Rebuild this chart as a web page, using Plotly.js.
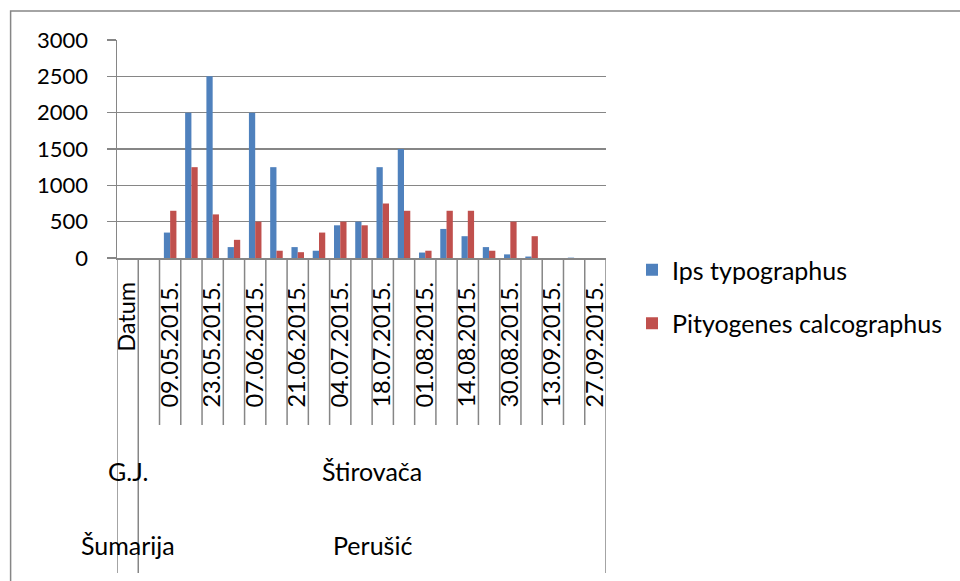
<!DOCTYPE html>
<html>
<head>
<meta charset="utf-8">
<script src="https://cdn.plot.ly/plotly-3.0.1.min.js"></script>
<style>html,body{margin:0;padding:0;background:#fff;}#chart{width:960px;height:581px;}</style>
</head>
<body>
<div id="chart"></div>
<script>
// Category level 1 (dates); every other label is shown, as in the original
const categories = ["Datum","02.05.2015.","09.05.2015.","16.05.2015.","23.05.2015.","30.05.2015.","07.06.2015.","14.06.2015.","21.06.2015.","28.06.2015.","04.07.2015.","11.07.2015.","18.07.2015.","25.07.2015.","01.08.2015.","08.08.2015.","14.08.2015.","22.08.2015.","30.08.2015.","06.09.2015.","13.09.2015.","20.09.2015.","27.09.2015."];
const shownLabels = ["Datum","09.05.2015.","23.05.2015.","07.06.2015.","21.06.2015.","04.07.2015.","18.07.2015.","01.08.2015.","14.08.2015.","30.08.2015.","13.09.2015.","27.09.2015."];
// Category level 2 and 3
const level2 = [{text:"G.J.", from:0, to:0}, {text:"Štirovača", from:1, to:22}];
const level3 = [{text:"Šumarija", from:0, to:0}, {text:"Perušić", from:1, to:22}];
// Series
const seriesNames = ["Ips typographus","Pityogenes calcographus"];
const ipsValues  = [null,0,350,2000,2500,150,2000,1250,150,100,450,500,1250,1500,75,400,300,150,50,20,0,5,0];
const pityValues = [null,0,650,1250,600,250,500,100,80,350,500,450,750,650,100,650,650,100,500,300,0,0,0];
const yTicks = [0,500,1000,1500,2000,2500,3000];

const FONT = "Lato, 'Liberation Sans', sans-serif";
const GREY = "#868686";

const traces = [
  {type:"bar", name:seriesNames[0], x:categories, y:ipsValues, marker:{color:"#4F81BD"}, legendgroup:"a"},
  {type:"bar", name:seriesNames[1], x:categories, y:pityValues, marker:{color:"#C0504D"}, legendgroup:"b"}
];

// paper y for pixel rows (plot area from 40 to 258)
const plotTop = 40, plotBottom = 258, plotH = plotBottom - plotTop;
const py = px => (plotBottom - px) / plotH;

const shapes = [];
// boundary tick lines under the axis
for (let k = 0; k <= categories.length; k++) {
  const longLine = (k === 0 || k === 1 || k === categories.length);
  shapes.push({type:"line", xref:"x", yref:"paper", x0:k-0.5, x1:k-0.5, y0:0, y1: longLine ? py(573) : py(425),
    line:{color:GREY, width:1.5}});
}
// outer chart border
shapes.push({type:"rect", xref:"paper", yref:"paper", x0:(9-116.7)/495, x1:(990-116.7)/495, y0:py(620), y1:py(11),
  line:{color:GREY, width:1.5}, fillcolor:"rgba(0,0,0,0)"});

const annotations = [];
level2.forEach(g => annotations.push({xref:"x", yref:"paper", x:(g.from+g.to)/2, y:py(471), text:g.text, showarrow:false,
  font:{family:FONT, size:25, color:"#000"}, xanchor:"center", yanchor:"middle"}));
level3.forEach(g => annotations.push({xref:"x", yref:"paper", x:(g.from+g.to)/2, y:py(545), text:g.text, showarrow:false,
  font:{family:FONT, size:25, color:"#000"}, xanchor:"center", yanchor:"middle"}));

const layout = {
  width:960, height:581,
  margin:{l:116.7, r:348.3, t:40, b:323},
  paper_bgcolor:"#fff", plot_bgcolor:"#fff",
  font:{family:FONT, size:22, color:"#000"},
  barmode:"group", bargap:0.41, bargroupgap:0,
  showlegend:true,
  legend:{x:(638-116.7)/495, xanchor:"left", y:py(247), yanchor:"top", traceorder:"grouped", tracegroupgap:18,
    font:{family:FONT, size:25, color:"#000"}, bgcolor:"rgba(0,0,0,0)"},
  xaxis:{type:"category", categoryorder:"array", categoryarray:categories, range:[-0.5, categories.length-0.5],
    tickmode:"array", tickvals:shownLabels, ticktext:shownLabels, tickangle:-90, ticks:"", ticklabelstandoff:13,
    showgrid:false, showline:true, linecolor:GREY, linewidth:1.5, zeroline:false,
    tickfont:{family:FONT, size:23.5, color:"#000"}},
  yaxis:{range:[0,3000], tickmode:"array", tickvals:yTicks, ticktext:yTicks.map(String),
    ticks:"outside", ticklen:9, tickwidth:1.5, tickcolor:GREY, ticklabelstandoff:14,
    showgrid:true, gridcolor:GREY, gridwidth:1.5, showline:true, linecolor:GREY, linewidth:1.5, zeroline:false,
    tickfont:{family:FONT, size:22, color:"#000"}},
  shapes:shapes, annotations:annotations
};

Plotly.newPlot("chart", traces, layout, {displayModeBar:false, staticPlot:true});
</script>
</body>
</html>
